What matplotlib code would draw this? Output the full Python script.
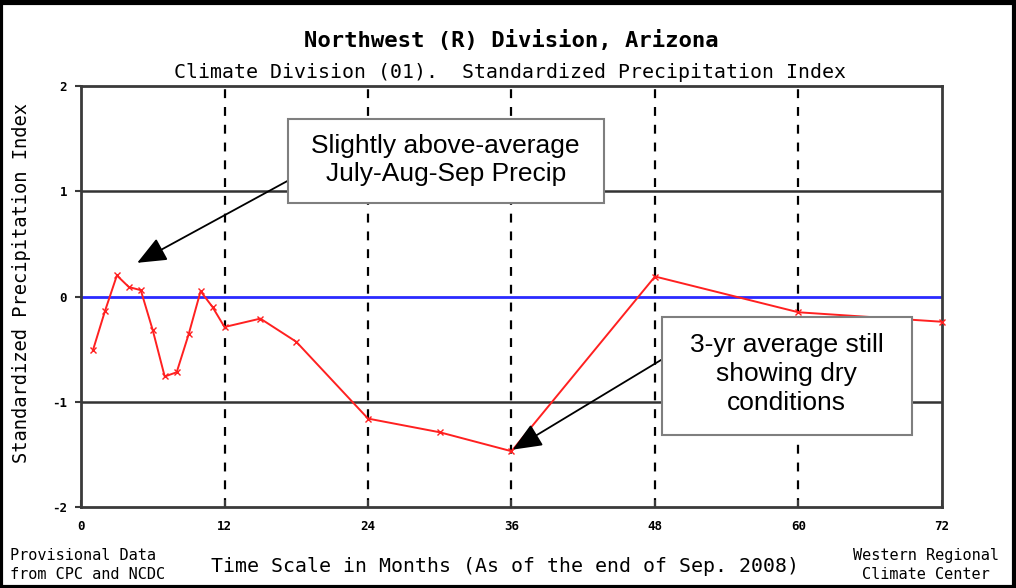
import matplotlib
matplotlib.use("Agg")
import matplotlib.pyplot as plt
from matplotlib.patches import Rectangle

# Data
months = [1, 2, 3, 4, 5, 6, 7, 8, 9, 10, 11, 12, 15, 18, 24, 30, 36, 48, 60, 72]
spi = [-0.51, -0.14, 0.20, 0.09, 0.06, -0.32, -0.76, -0.72, -0.36, 0.05, -0.10,
       -0.29, -0.21, -0.43, -1.16, -1.29, -1.47, 0.19, -0.15, -0.24]
xticks = [0, 12, 24, 36, 48, 60, 72]
yticks = [-2, -1, 0, 1, 2]
dashed_x = [12, 24, 36, 48, 60]
solid_y = [-1, 1]

W, H = 1016, 588
fig = plt.figure(figsize=(W / 100, H / 100), dpi=100)
fig.patch.set_facecolor("white")

# axes in pixel geometry
L, R, T, B = 81, 942, 86, 507
ax = fig.add_axes([L / W, 1 - B / H, (R - L) / W, (B - T) / H])
ax.set_xlim(0, 72)
ax.set_ylim(-2, 2)

mono = "DejaVu Sans Mono"

for s in ax.spines.values():
    s.set_color("#3a3a3a")
    s.set_linewidth(2)

ax.set_xticks(xticks)
ax.set_xticklabels([str(t) for t in xticks], fontfamily=mono, fontweight="bold", fontsize=9)
ax.set_yticks(yticks)
ax.set_yticklabels([str(t) for t in yticks], fontfamily=mono, fontweight="bold", fontsize=9)
ax.tick_params(axis="x", direction="in", length=5, width=1.5, color="#3a3a3a", pad=9)
ax.tick_params(axis="y", direction="out", length=4, width=1.5, color="#3a3a3a", pad=6)

for y in solid_y:
    ax.axhline(y, color="#333333", linewidth=1.8, zorder=1)
ax.axhline(0, color="#2a2aff", linewidth=2, zorder=1)
for x in dashed_x:
    ax.axvline(x, color="black", linewidth=1.6, linestyle=(0, (4, 4)), zorder=1)

ax.plot(months, spi, color="#ff2020", linewidth=1.4, marker="x", markersize=4,
        markeredgewidth=1.0, zorder=3, clip_on=False)

# annotation boxes (in data coordinates)
box1 = (17.3, 0.886, 26.4, 0.80)
box2 = (48.55, -1.313, 20.9, 1.116)
for (bx, by, bw, bh) in (box1, box2):
    ax.add_patch(Rectangle((bx, by), bw, bh, facecolor="white", edgecolor="#7f7f7f",
                           linewidth=1.5, zorder=5))

ax.text(box1[0] + box1[2] / 2, box1[1] + box1[3] / 2 + 0.01,
        "Slightly above-average\nJuly-Aug-Sep Precip", ha="center", va="center",
        fontfamily="Liberation Sans", fontsize=19, linespacing=1.25, zorder=6)
ax.text(box2[0] + box2[2] / 2, box2[1] + box2[3] / 2 + 0.02,
        "3-yr average still\nshowing dry\nconditions", ha="center", va="center",
        fontfamily="Liberation Sans", fontsize=19, linespacing=1.25, zorder=6)

arrowprops = dict(arrowstyle="-|>,head_length=0.9,head_width=0.38", color="black",
                  linewidth=1.3, shrinkA=0, shrinkB=0, mutation_scale=20)
ax.annotate("", xy=(4.7, 0.32), xytext=(17.3, 1.10), arrowprops=arrowprops, zorder=4)
ax.annotate("", xy=(36.1, -1.455), xytext=(48.55, -0.60), arrowprops=arrowprops, zorder=4)

# Titles and labels
fig.text(511 / W, 1 - 40 / H, "Northwest (R) Division, Arizona", ha="center", va="center",
         fontfamily=mono, fontweight="bold", fontsize=16)
fig.text(510 / W, 1 - 73 / H, "Climate Division (01).  Standardized Precipitation Index",
         ha="center", va="center", fontfamily=mono, fontsize=14.3)
fig.text(22 / W, 1 - 283 / H, "Standardized Precipitation Index", rotation=90,
         ha="center", va="center", fontfamily=mono, fontsize=13.5)
fig.text(505 / W, 1 - 566 / H, "Time Scale in Months (As of the end of Sep. 2008)",
         ha="center", va="center", fontfamily=mono, fontsize=14.3)
fig.text(10 / W, 1 - 565 / H, "Provisional Data\nfrom CPC and NCDC", ha="left", va="center",
         fontfamily=mono, fontsize=11, linespacing=1.3)
fig.text(926 / W, 1 - 565 / H, "Western Regional\nClimate Center", ha="center", va="center",
         fontfamily=mono, fontsize=11, linespacing=1.3)

# outer frame
fig.add_artist(Rectangle((1 / W, 1 / H), (W - 3) / W, (H - 4) / H, transform=fig.transFigure,
                         fill=False, edgecolor="black", linewidth=3))
fig.add_artist(Rectangle((0, 1 - 5 / H), 1, 5 / H, transform=fig.transFigure,
                         facecolor="black", edgecolor="none"))

fig.savefig("out.png", dpi=100)
